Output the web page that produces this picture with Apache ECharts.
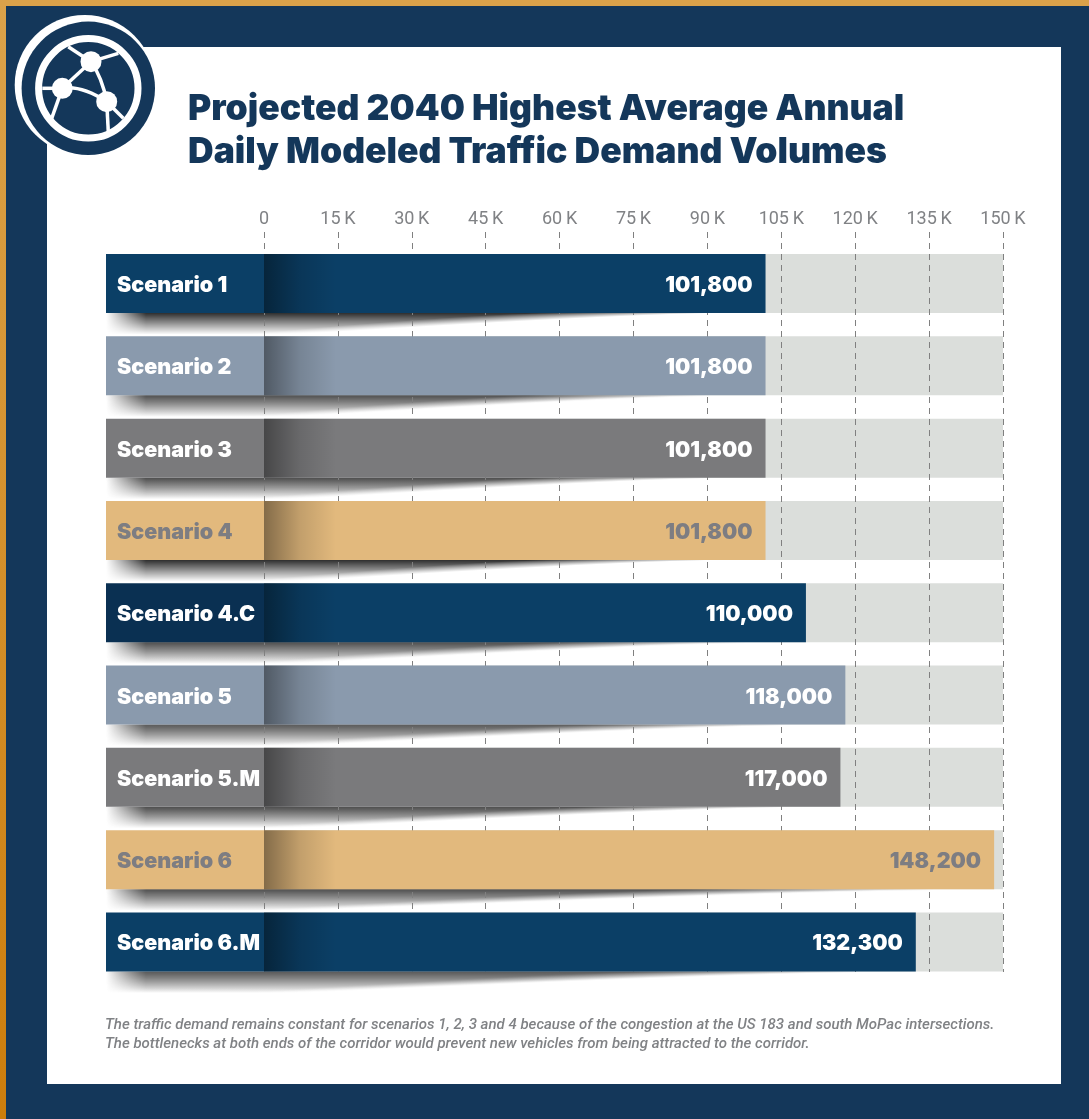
<!DOCTYPE html>
<html>
<head>
<meta charset="utf-8">
<title>Projected 2040 traffic demand</title>
<script src="https://cdn.jsdelivr.net/npm/echarts@6/dist/echarts.min.js"></script>
<style>
    html, body { margin: 0; padding: 0; background: #fff; }
    #main { width: 1089px; height: 1119px; }
</style>
</head>
<body>
<div id="main"></div>
<script>
let categories = ["Scenario 1", "Scenario 2", "Scenario 3", "Scenario 4", "Scenario 4.C", "Scenario 5", "Scenario 5.M", "Scenario 6", "Scenario 6.M"];
let demandValues = [101800, 101800, 101800, 101800, 110000, 118000, 117000, 148200, 132300];
let tickLabels = ["0", "15\u2009K", "30\u2009K", "45\u2009K", "60\u2009K", "75\u2009K", "90\u2009K", "105\u2009K", "120\u2009K", "135\u2009K", "150\u2009K"];
let axisMax = 150000;
let axisStep = 15000;

let barColors = ["#0b3f66", "#8a9aad", "#7a7a7c", "#e2b97d", "#0b3f66", "#8a9aad", "#7a7a7c", "#e2b97d", "#0b3f66"];
let blockColors = ["#0b3f66", "#8a9aad", "#7a7a7c", "#e2b97d", "#0a3052", "#8a9aad", "#7a7a7c", "#e2b97d", "#0b3f66"];
let textColors = ["#fff", "#fff", "#fff", "#7d7d82", "#fff", "#fff", "#fff", "#7d7d82", "#fff"];

let navy = "#14375a";
let barHeight = 59;
let blockWidth = 158;
let heavyFont = "Inter";
let thinFont = "Roboto";

let chart = echarts.init(document.getElementById("main"));

// shadow under each bar: one pixel strips, each shorter and lighter than the one above
function renderShadow(params, api) {
    let p = api.coord([api.value(0), api.value(1)]);
    let zero = api.coord([0, api.value(1)]);
    let left = zero[0] - blockWidth;
    let bottom = p[1] + barHeight / 2;
    let tip = p[0] - 60;
    let depth = 21;
    let strips = [];
    for (let d = 0; d < depth; d++) {
        let t = d / depth;
        let end = tip - (tip - left - 190) * Math.pow(t, 0.8);
        let a = 0.8 * (1 - t);
        let c = "rgba(0,0,0," + a + ")";
        strips.push({
            type: "rect",
            shape: { x: left, y: bottom + d, width: end - left, height: 1 },
            style: {
                fill: new echarts.graphic.LinearGradient(0, 0, 1, 0, [
                    { offset: 0, color: "rgba(0,0,0,0)" },
                    { offset: 40 / (end - left), color: c },
                    { offset: 0.7, color: c },
                    { offset: 1, color: "rgba(0,0,0,0)" }
                ])
            }
        });
    }
    return { type: "group", children: strips };
}

// coloured name block left of the zero line, plus the dark fade where the bar starts
function renderBlock(params, api) {
    let i = params.dataIndex;
    let zero = api.coord([0, api.value(1)]);
    let top = zero[1] - barHeight / 2;
    return {
        type: "group",
        children: [
            {
                type: "rect",
                shape: { x: zero[0] - blockWidth, y: top, width: blockWidth, height: barHeight },
                style: { fill: blockColors[i] }
            },
            {
                type: "rect",
                shape: { x: zero[0], y: top, width: 72, height: barHeight },
                style: {
                    fill: new echarts.graphic.LinearGradient(0, 0, 1, 0, [
                        { offset: 0, color: "rgba(0,0,0,0.42)" },
                        { offset: 0.5, color: "rgba(0,0,0,0.14)" },
                        { offset: 1, color: "rgba(0,0,0,0)" }
                    ])
                }
            },
            {
                type: "text",
                style: {
                    x: zero[0] - blockWidth + 11,
                    y: zero[1] + 2,
                    text: categories[i],
                    fill: textColors[i],
                    font: "900 21.5px " + heavyFont,
                    verticalAlign: "middle"
                }
            }
        ]
    };
}

// network mark in the logo: straight spokes and two curved links
let logoLines = [
    [91, 61.7, 68.3, 46.7], [91, 61.7, 118.3, 53.3], [91, 61.7, 62.3, 88.3],
    [62.3, 88.3, 42.3, 88.3], [62.3, 88.3, 51.7, 118.3], [106.7, 101.7, 123.3, 118.3], [106.7, 101.7, 108.3, 131.7]
];
let logoCurves = [
    [91, 61.7, 99, 73, 104, 87, 106.7, 101.7],
    [62.3, 88.3, 76, 86, 92, 92, 106.7, 101.7]
];
let logoNodes = [[91, 61.7], [62.3, 88.3], [106.7, 101.7]];

let option = {
    animation: false,
    title: {
        text: "Projected 2040 Highest Average Annual\nDaily Modeled Traffic Demand Volumes",
        left: 183,
        top: 83,
        textStyle: { color: navy, fontFamily: heavyFont, fontWeight: 900, fontSize: 35.5, lineHeight: 43 }
    },
    graphic: {
        elements: [
            { type: "rect", z: -10, shape: { x: 0, y: 0, width: 1089, height: 1119 }, style: { fill: navy } },
            {
                type: "rect", z: -9, shape: { x: 0, y: 0, width: 6, height: 1119 },
                style: {
                    fill: new echarts.graphic.LinearGradient(0, 0, 0, 1, [
                        { offset: 0, color: "#dba24a" }, { offset: 1, color: "#cc7d0c" }
                    ])
                }
            },
            { type: "rect", z: -9, shape: { x: 0, y: 0, width: 1089, height: 6 }, style: { fill: "#dba24a" } },
            { type: "rect", z: -8, shape: { x: 47, y: 47, width: 1014, height: 1037 }, style: { fill: "#fff" } },
            { type: "circle", z: 20, shape: { cx: 84.7, cy: 85, r: 70 }, style: { fill: "#fff" } },
            { type: "circle", z: 21, shape: { cx: 88.3, cy: 88.3, r: 66.7 }, style: { fill: navy } },
            { type: "circle", z: 22, shape: { cx: 88.3, cy: 88.3, r: 49.7 }, style: { fill: "none", stroke: "#fff", lineWidth: 7 } }
        ].concat(logoLines.map(l => ({
            type: "line", z: 23, shape: { x1: l[0], y1: l[1], x2: l[2], y2: l[3] }, style: { stroke: "#fff", lineWidth: 3.5 }
        }))).concat(logoCurves.map(c => ({
            type: "bezierCurve", z: 23,
            shape: { x1: c[0], y1: c[1], cpx1: c[2], cpy1: c[3], cpx2: c[4], cpy2: c[5], x2: c[6], y2: c[7] },
            style: { fill: "none", stroke: "#fff", lineWidth: 3.5 }
        }))).concat(logoNodes.map(c => ({
            type: "circle", z: 24, shape: { cx: c[0], cy: c[1], r: 10.5 }, style: { fill: "#fff" }
        }))).concat([{
            type: "text",
            z: 5,
            style: {
                x: 105,
                y: 1016,
                text: "The traffic demand remains constant for scenarios 1, 2, 3 and 4 because of the congestion at the US 183 and south MoPac intersections.\nThe bottlenecks at both ends of the corridor would prevent new vehicles from being attracted to the corridor.",
                fill: "#808285",
                font: "italic 500 15px " + thinFont,
                lineHeight: 19
            }
        }])
    },
    grid: [
        // first grid only carries the dashed lines and tick labels, they run a bit higher than the rows
        { left: 264, width: 739, top: 232, height: 740 },
        { left: 264, width: 739, top: 242.4, height: 740.7 }
    ],
    xAxis: [
        {
            gridIndex: 0, type: "value", position: "top", min: 0, max: axisMax, interval: axisStep, z: 3,
            axisLine: { show: false },
            axisTick: { show: false },
            axisLabel: {
                margin: 4, color: "#808285", fontFamily: thinFont, fontSize: 18,
                formatter: (v) => tickLabels[v / axisStep]
            },
            splitLine: { show: true, lineStyle: { color: "#808080", width: 1, type: [6, 5] } }
        },
        { gridIndex: 1, type: "value", min: 0, max: axisMax, show: false }
    ],
    yAxis: [
        { gridIndex: 0, type: "value", min: 0, max: 1, show: false },
        { gridIndex: 1, type: "category", inverse: true, data: categories, show: false }
    ],
    series: [
        {
            type: "bar", name: "Scale", xAxisIndex: 1, yAxisIndex: 1, z: 1, silent: true,
            barWidth: barHeight, barGap: "-100%",
            itemStyle: { color: "#dbdedb" },
            data: categories.map(() => axisMax)
        },
        {
            type: "custom", name: "Shadow", xAxisIndex: 1, yAxisIndex: 1, z: 2, silent: true,
            renderItem: renderShadow,
            encode: { x: 0, y: 1 },
            data: demandValues.map((v, i) => [v, i]),
            clip: false
        },
        {
            type: "bar", name: "Demand", xAxisIndex: 1, yAxisIndex: 1, z: 4,
            barWidth: barHeight, barGap: "-100%",
            data: demandValues.map((v, i) => ({
                value: v,
                itemStyle: { color: barColors[i] },
                label: { color: textColors[i] }
            })),
            label: {
                show: true, position: "insideRight", distance: 13, offset: [0, 2],
                fontFamily: heavyFont, fontWeight: 900, fontSize: 21.5,
                formatter: (p) => p.value.toLocaleString("en-US")
            }
        },
        {
            type: "custom", name: "Names", xAxisIndex: 1, yAxisIndex: 1, z: 5, silent: true,
            renderItem: renderBlock,
            encode: { x: 0, y: 1 },
            data: demandValues.map((v, i) => [v, i]),
            clip: false
        }
    ]
};
chart.setOption(option);
</script>
</body>
</html>
